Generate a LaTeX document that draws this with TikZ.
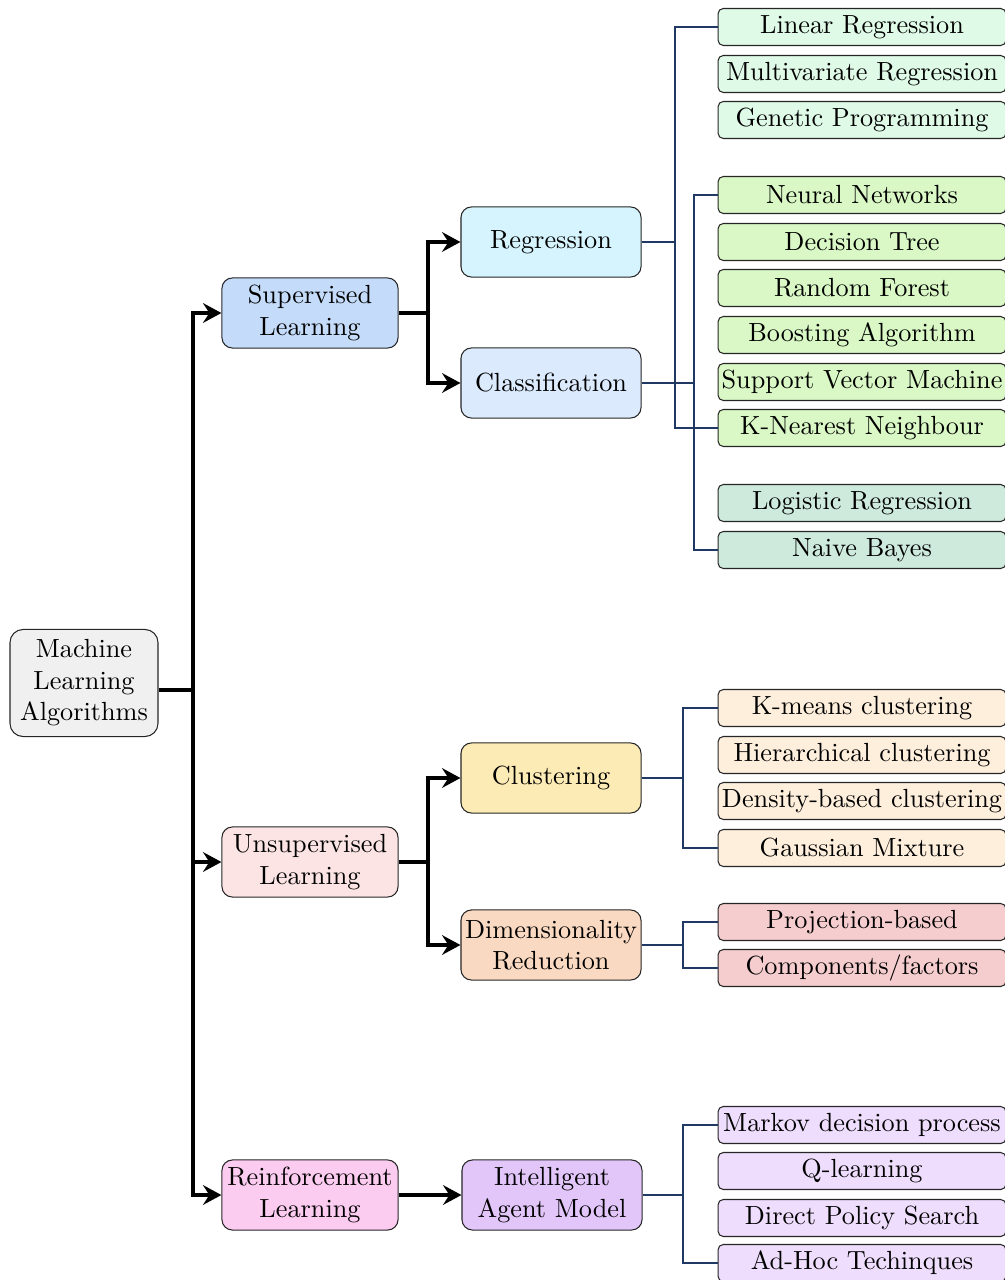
\documentclass[tikz,border=0pt]{standalone}
\usetikzlibrary{arrows.meta}
\definecolor{navy}{HTML}{1F3864}
\definecolor{cRoot}{HTML}{F0F0F0}
\definecolor{cSup}{HTML}{C4DCFA}
\definecolor{cUns}{HTML}{FCE4E4}
\definecolor{cRei}{HTML}{FBCBF0}
\definecolor{cReg}{HTML}{D5F4FD}
\definecolor{cCls}{HTML}{DBEAFC}
\definecolor{cClu}{HTML}{FDEBB5}
\definecolor{cDim}{HTML}{F9D9C1}
\definecolor{cIam}{HTML}{E2C6FA}
\definecolor{lReg}{HTML}{E0FAE8}
\definecolor{lCls}{HTML}{D9F8C5}
\definecolor{lPrb}{HTML}{CEEADC}
\definecolor{lClu}{HTML}{FEEFDC}
\definecolor{lDim}{HTML}{F5CDCE}
\definecolor{lRl}{HTML}{EEDDFC}
\tikzset{
  box/.style={draw=black!85, line width=0.4pt, rounded corners=4pt, align=center,
    inner sep=1pt, minimum width=67.1pt, minimum height=26.7pt, font=\normalsize},
  rootbox/.style={box, minimum width=56.4pt, minimum height=40.8pt, rounded corners=5pt},
  midbox/.style={box, minimum width=68.6pt},
  leaf/.style={draw=black!85, line width=0.4pt, rounded corners=2pt, inner sep=0pt,
    minimum width=109.7pt, minimum height=14.1pt},
  trunk/.style={line width=1.6pt, black},
  trunkarrow/.style={trunk, -{Stealth[length=7pt,width=7.5pt,inset=2.4pt]}},
  twig/.style={line width=0.8pt, navy},
}
\begin{document}
\begin{tikzpicture}[x=0.381pt, y=-0.381pt]
\useasboundingbox (0,0) rectangle (1004,1280);

% main categories
\node[rootbox, fill=cRoot] (root) at (84,683) {Machine\\Learning\\Algorithms};
\node[box, fill=cSup] (sup) at (310,313) {Supervised\\Learning};
\node[box, fill=cUns] (uns) at (310,862) {Unsupervised\\Learning};
\node[box, fill=cRei] (rei) at (310,1195) {Reinforcement\\Learning};

% sub categories
\node[midbox, fill=cReg] (reg) at (551,242) {Regression};
\node[midbox, fill=cCls] (cls) at (551,383) {Classification};
\node[midbox, fill=cClu] (clu) at (551,778) {Clustering};
\node[midbox, fill=cDim] (dim) at (551,945) {Dimensionality\\Reduction};
\node[midbox, fill=cIam] (iam) at (552,1195) {Intelligent\\Agent Model};

% algorithms
\node[leaf, fill=lReg] (lin) at (862,27) {Linear Regression};
\node[leaf, fill=lReg] (mul) at (862,74) {Multivariate Regression};
\node[leaf, fill=lReg] (gen) at (862,120) {Genetic Programming};
\node[leaf, fill=lCls] (nn) at (862,195) {Neural Networks};
\node[leaf, fill=lCls] (dt) at (862,242) {Decision Tree};
\node[leaf, fill=lCls] (rf) at (862,288) {Random Forest};
\node[leaf, fill=lCls] (boo) at (862,335) {Boosting Algorithm};
\node[leaf, fill=lCls] (svm) at (862,382) {Support Vector Machine};
\node[leaf, fill=lCls] (knn) at (862,428) {K-Nearest Neighbour};
\node[leaf, fill=lPrb] (lr) at (862,503) {Logistic Regression};
\node[leaf, fill=lPrb] (nb) at (862,550) {Naive Bayes};

\node[leaf, fill=lClu] (km) at (862,708) {K-means clustering};
\node[leaf, fill=lClu] (hc) at (862,755) {Hierarchical clustering};
\node[leaf, fill=lClu] (dbc) at (862,801) {Density-based clustering};
\node[leaf, fill=lClu] (gm) at (862,848) {Gaussian Mixture};
\node[leaf, fill=lDim] (pb) at (862,922) {Projection-based};
\node[leaf, fill=lDim] (cf) at (862,968) {Components/factors};

\node[leaf, fill=lRl] (mdp) at (862,1125) {Markov decision process};
\node[leaf, fill=lRl] (ql) at (862,1171) {Q-learning};
\node[leaf, fill=lRl] (dps) at (862,1218) {Direct Policy Search};
\node[leaf, fill=lRl] (aht) at (862,1263) {Ad-Hoc Techinques};

% thick black tree
\coordinate (t0) at (193,690);
\draw[trunk] (root.east |- t0) -- (t0);
\draw[trunkarrow] (t0) |- (sup.west);
\draw[trunkarrow] (t0) |- (uns.west);
\draw[trunkarrow] (t0) |- (rei.west);

\coordinate (t1) at (428,313);
\draw[trunk] (sup.east) -- (t1);
\draw[trunkarrow] (t1) |- (reg.west);
\draw[trunkarrow] (t1) |- (cls.west);

\coordinate (t2) at (428,862);
\draw[trunk] (uns.east) -- (t2);
\draw[trunkarrow] (t2) |- (clu.west);
\draw[trunkarrow] (t2) |- (dim.west);

\draw[trunkarrow] (rei.east) -- (iam.west);

% thin navy brackets
\coordinate (b1) at (675,242);
\draw[twig] (reg.east) -- (b1);
\draw[twig] (b1) |- (lin.west);
\draw[twig] (b1) |- (knn.west);

\coordinate (b2) at (694,383);
\draw[twig] (cls.east) -- (b2);
\draw[twig] (b2) |- (nn.west);
\draw[twig] (b2) |- (nb.west);

\coordinate (b3) at (683,778);
\draw[twig] (clu.east) -- (b3);
\draw[twig] (b3) |- (km.west);
\draw[twig] (b3) |- (gm.west);

\coordinate (b4) at (683,945);
\draw[twig] (dim.east) -- (b4);
\draw[twig] (b4) |- (pb.west);
\draw[twig] (b4) |- (cf.west);

\coordinate (b5) at (683,1195);
\draw[twig] (iam.east) -- (b5);
\draw[twig] (b5) |- (mdp.west);
\draw[twig] (b5) |- (aht.west);
\end{tikzpicture}
\end{document}
